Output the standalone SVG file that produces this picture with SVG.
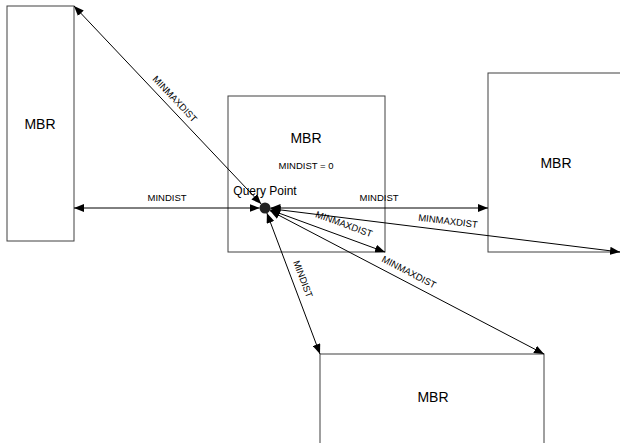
<svg xmlns="http://www.w3.org/2000/svg" width="620" height="443" viewBox="0 0 620 443">
<style>
.box{fill:#fff;stroke:#404040;stroke-width:1}
.ln{stroke:#000;stroke-width:1;fill:none;marker-start:url(#ah);marker-end:url(#ah)}
.big{font-family:"Liberation Sans",Arial,sans-serif;font-size:14px;text-anchor:middle;fill:#000}
.sm{font-family:"Liberation Sans",Arial,sans-serif;font-size:9.5px;text-anchor:middle;fill:#000}
.qp{font-family:"Liberation Sans",Arial,sans-serif;font-size:12px;text-anchor:middle;fill:#000}
</style>
<defs>
<marker id="ah" viewBox="0 0 10 8" refX="10" refY="4" markerWidth="10" markerHeight="8" markerUnits="userSpaceOnUse" orient="auto-start-reverse">
<path d="M0,0 L10,4 L0,8 Z" fill="#000"/>
</marker>
</defs>
<rect width="620" height="443" fill="#fff"/>
<g id="mbr-left"><rect class="box" x="7" y="6" width="67" height="235"/><text class="big" x="40" y="129">MBR</text></g>
<g id="mbr-center"><rect class="box" x="228" y="96" width="157" height="156"/><text class="big" x="306" y="143">MBR</text><text class="sm" x="306" y="169">MINDIST = 0</text></g>
<g id="mbr-right"><rect class="box" x="488" y="73" width="140" height="179"/><text class="big" x="556" y="168">MBR</text></g>
<g id="mbr-bottom"><rect class="box" x="320" y="354" width="224" height="100"/><text class="big" x="433" y="402">MBR</text></g>
<g id="query-point"><circle cx="265" cy="208" r="5.5" fill="#222"/><text class="qp" x="265" y="195">Query Point</text></g>
<g id="connectors">
<line class="ln" x1="259.5" y1="208" x2="74" y2="208"/>
<line class="ln" x1="261.2" y1="204" x2="74" y2="6"/>
<line class="ln" x1="270.5" y1="208" x2="488" y2="208"/>
<line class="ln" x1="270.5" y1="208.7" x2="620" y2="252"/>
<line class="ln" x1="270.2" y1="209.9" x2="385" y2="252"/>
<line class="ln" x1="266.9" y1="213.1" x2="320" y2="354"/>
<line class="ln" x1="269.9" y1="210.6" x2="544" y2="354"/>
<text class="sm" x="167" y="200.5">MINDIST</text>
<text class="sm" x="379" y="200.5">MINDIST</text>
<text class="sm" x="175" y="99" dy="0.35em" transform="rotate(46.6 175 99)">MINMAXDIST</text>
<text class="sm" x="448" y="221" dy="0.35em" transform="rotate(7 448 221)">MINMAXDIST</text>
<text class="sm" x="344" y="224" dy="0.35em" transform="rotate(20 344 224)">MINMAXDIST</text>
<text class="sm" x="409" y="272" dy="0.35em" transform="rotate(27.5 409 272)">MINMAXDIST</text>
<text class="sm" x="303" y="279" dy="0.35em" transform="rotate(69 303 279)">MINDIST</text>
</g>
</svg>
